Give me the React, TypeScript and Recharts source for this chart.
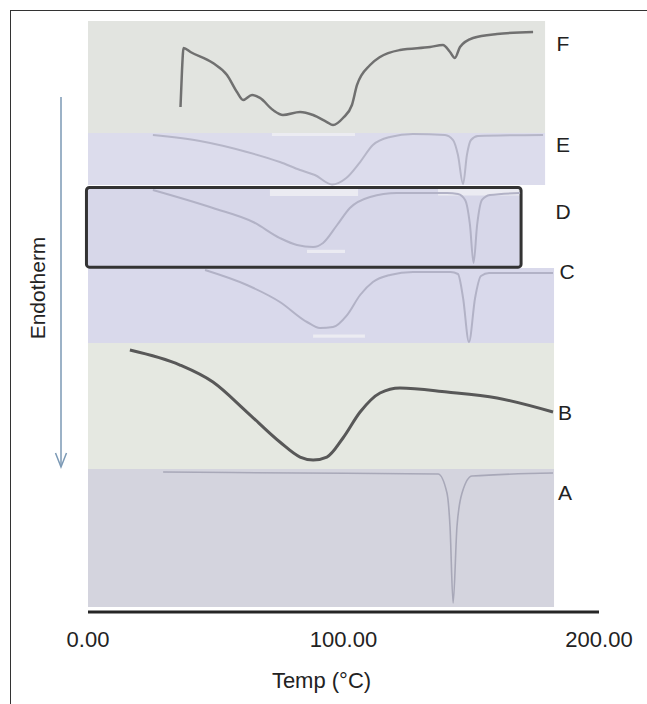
import React from 'react';
import { ComposedChart, Line, XAxis, YAxis, ReferenceArea, ReferenceDot } from 'recharts';

const FONT = '"Liberation Sans", Arial, Helvetica, sans-serif';

// x axis ticks (°C)
const tempTicks = [0, 100, 200];

// Trace F (relative heat flow, % of strip height)
const tempF = [36.2, 36.8, 37.4, 40.1, 48.9, 54.4, 58.3, 60.7, 64.2, 67.3, 72.4, 76.3, 83.0, 88.1, 93.5, 95.9, 99.8, 103.3, 105.3, 110.4, 114.3, 122.1, 133.9, 138.9, 141.7, 143.6, 145.6, 150.7, 160.1, 174.2];
const flowF = [23.2, 56.3, 75.9, 72.3, 62.5, 51.8, 36.6, 29.5, 33.9, 31.3, 20.5, 16.1, 18.8, 16.1, 9.8, 7.1, 13.4, 25.0, 42.9, 60.7, 67.9, 74.1, 76.8, 78.6, 72.3, 67.0, 76.8, 84.8, 88.4, 90.2];

// Trace E
const tempE = [25.4, 43.8, 62.2, 75.1, 83.0, 88.8, 95.5, 101.1, 106.5, 111.5, 118.2, 127.2, 139.7, 142.9, 144.8, 146.8, 148.3, 149.9, 152.6, 178.1];
const flowE = [96.2, 84.6, 63.5, 44.2, 28.8, 19.2, 1.0, 13.5, 44.2, 76.9, 92.3, 98.1, 96.2, 86.5, 57.7, 1.9, 57.7, 86.5, 94.2, 96.2];

// Trace D
const tempD = [25.4, 48.9, 64.6, 75.1, 81.8, 88.1, 92.0, 97.5, 102.5, 110.4, 120.9, 140.5, 144.8, 147.6, 149.5, 150.9, 152.3, 154.2, 157.3, 169.1];
const flowD = [96.3, 74.1, 56.8, 37.0, 28.4, 25.9, 30.9, 53.1, 74.1, 87.7, 92.6, 92.6, 91.4, 84.0, 53.1, 6.2, 53.1, 84.0, 90.1, 92.6];

// Trace C
const tempC = [45.8, 62.2, 75.1, 85.7, 90.8, 95.9, 101.4, 106.5, 111.5, 118.2, 127.2, 141.9, 144.8, 146.8, 149.1, 151.5, 153.8, 157.0, 182.0];
const flowC = [97.3, 77.3, 54.7, 28.0, 20.0, 21.3, 37.3, 64.0, 81.3, 90.7, 94.7, 94.7, 92.0, 60.0, 1.3, 60.0, 89.3, 93.3, 93.3];

// Trace B
const tempB = [16.4, 36.0, 48.9, 62.2, 75.1, 83.0, 88.1, 93.5, 99.8, 106.5, 114.3, 122.1, 140.5, 160.1, 182.0];
const flowB = [94.4, 82.5, 69.0, 45.2, 21.4, 9.5, 7.1, 9.5, 24.6, 45.2, 60.3, 64.3, 61.1, 56.3, 45.2];

// Trace A
const tempA = [29.4, 83.0, 137.0, 140.5, 141.7, 142.9, 144.4, 146.4, 150.3, 182.0];
const flowA = [97.8, 97.1, 96.4, 82.6, 58.0, 2.9, 58.0, 82.6, 94.9, 97.1];

const toRows = (t: number[], v: number[]) => t.map((x, i) => ({ t: x, v: v[i] }));

const W = 647;
const H = 704;
const PLOT_TOP = 21;
const PLOT_BOTTOM = 612;

type Panel = {
  id: string;
  data: { t: number; v: number }[];
  top: number;
  bottom: number;
  xEnd: number;
  fill: string;
  stroke: string;
  width: number;
  labelT: number;
  labelV: number;
};

const panels: Panel[] = [
  { id: 'F', data: toRows(tempF, flowF), top: 21, bottom: 133, xEnd: 178.9, fill: '#e2e4e0', stroke: '#707070', width: 2.5, labelT: 185.9, labelV: 79.5 },
  { id: 'E', data: toRows(tempE, flowE), top: 133, bottom: 185, xEnd: 178.9, fill: '#dcdcec', stroke: '#b6b6c8', width: 2, labelT: 185.9, labelV: 76.9 },
  { id: 'D', data: toRows(tempD, flowD), top: 187, bottom: 268, xEnd: 169.1, fill: '#d7d7e9', stroke: '#b2b2c6', width: 2, labelT: 185.9, labelV: 69.1 },
  { id: 'C', data: toRows(tempC, flowC), top: 268, bottom: 343, xEnd: 182.4, fill: '#d9d9eb', stroke: '#b2b2c6', width: 2, labelT: 187.5, labelV: 94.7 },
  { id: 'B', data: toRows(tempB, flowB), top: 343, bottom: 469, xEnd: 182.4, fill: '#e5e8e1', stroke: '#585858', width: 3, labelT: 186.7, labelV: 45.2 },
  { id: 'A', data: toRows(tempA, flowA), top: 469, bottom: 607, xEnd: 182.4, fill: '#d4d4de', stroke: '#a8a8b8', width: 1.6, labelT: 186.7, labelV: 83.3 },
];

// light scan streaks visible on some strips (panel, x1, x2, y1, y2 in strip units)
const streaks: { panel: string; x1: number; x2: number; y1: number; y2: number }[] = [
  { panel: 'E', x1: 72.0, x2: 104.5, y1: 94.2, y2: 100 },
  { panel: 'D', x1: 71.2, x2: 105.7, y1: 88.9, y2: 97.5 },
  { panel: 'D', x1: 137.0, x2: 169.0, y1: 89.5, y2: 97.5 },
  { panel: 'D', x1: 85.7, x2: 100.6, y1: 18.5, y2: 22.5 },
  { panel: 'C', x1: 88.1, x2: 108.4, y1: 7.0, y2: 11.5 },
];

function domainFor(top: number, bottom: number): [number, number] {
  const k = (bottom - top) / 100;
  const d0 = -(PLOT_BOTTOM - bottom) / k;
  const d1 = d0 + (PLOT_BOTTOM - PLOT_TOP) / k;
  return [d0, d1];
}

export default function App() {
  return (
    <div style={{ position: 'absolute', left: 0, top: 0, width: W, height: H, background: '#fff', overflow: 'hidden' }}>
      <div
        style={{
          position: 'absolute',
          left: 10,
          top: 10,
          width: W,
          height: H,
          borderLeft: '1px solid #333',
          borderTop: '1px solid #333',
        }}
      />
      <div style={{ position: 'absolute', left: 0, top: 0 }}>
        <ComposedChart width={W} height={H} margin={{ top: PLOT_TOP, right: 48, bottom: 12, left: 88 }}>
          <XAxis
            type="number"
            dataKey="t"
            domain={[0, 200]}
            allowDataOverflow
            ticks={tempTicks}
            interval={0}
            tickFormatter={(v: number) => v.toFixed(2)}
            tickLine={false}
            tickSize={0}
            tickMargin={19}
            axisLine={{ stroke: '#262626', strokeWidth: 3 }}
            tick={{ fontSize: 22, fill: '#222', fontFamily: FONT }}
            height={80}
            label={{ value: 'Temp (°C)', position: 'insideBottom', offset: 4, dx: -22, fontSize: 22, fill: '#222', fontFamily: FONT }}
          />
          {panels.map((p) => (
            <YAxis key={'y' + p.id} yAxisId={p.id} hide type="number" domain={domainFor(p.top, p.bottom)} allowDataOverflow />
          ))}
          {panels.map((p) => (
            <ReferenceArea
              key={'bg' + p.id}
              yAxisId={p.id}
              x1={0}
              x2={p.xEnd}
              y1={0}
              y2={100}
              fill={p.fill}
              fillOpacity={1}
              stroke="none"
            />
          ))}
          {streaks.map((s, i) => (
            <ReferenceArea
              key={'st' + i}
              yAxisId={s.panel}
              x1={s.x1}
              x2={s.x2}
              y1={s.y1}
              y2={s.y2}
              fill="#f1f1f4"
              fillOpacity={0.75}
              stroke="none"
            />
          ))}
          {panels.map((p) => (
            <Line
              key={'l' + p.id}
              data={p.data}
              dataKey="v"
              yAxisId={p.id}
              type="monotone"
              stroke={p.stroke}
              strokeWidth={p.width}
              dot={false}
              activeDot={false}
              isAnimationActive={false}
            />
          ))}
          <ReferenceArea
            yAxisId="D"
            x1={-0.6}
            x2={169.5}
            y1={1}
            y2={99.5}
            fill="none"
            stroke="#333"
            strokeWidth={3}
            radius={3}
            ifOverflow="visible"
          />
          {panels.map((p) => (
            <ReferenceDot
              key={'lab' + p.id}
              yAxisId={p.id}
              x={p.labelT}
              y={p.labelV}
              r={0}
              fill="none"
              stroke="none"
              label={{ value: p.id, position: 'center', fontSize: 21, fill: '#222', fontFamily: FONT }}
            />
          ))}
        </ComposedChart>
      </div>
      <svg width={W} height={H} style={{ position: 'absolute', left: 0, top: 0, pointerEvents: 'none' }}>
        <line x1={61} y1={97} x2={61} y2={466} stroke="#7b99b5" strokeWidth={1.5} />
        <polyline points="55.5,453 61,467 66.5,453" fill="none" stroke="#7b99b5" strokeWidth={1.5} />
        <text
          x={37}
          y={288}
          transform="rotate(-90 37 288)"
          textAnchor="middle"
          dominantBaseline="central"
          fontSize={21}
          fill="#222"
          fontFamily={FONT}
        >
          Endotherm
        </text>
      </svg>
    </div>
  );
}
